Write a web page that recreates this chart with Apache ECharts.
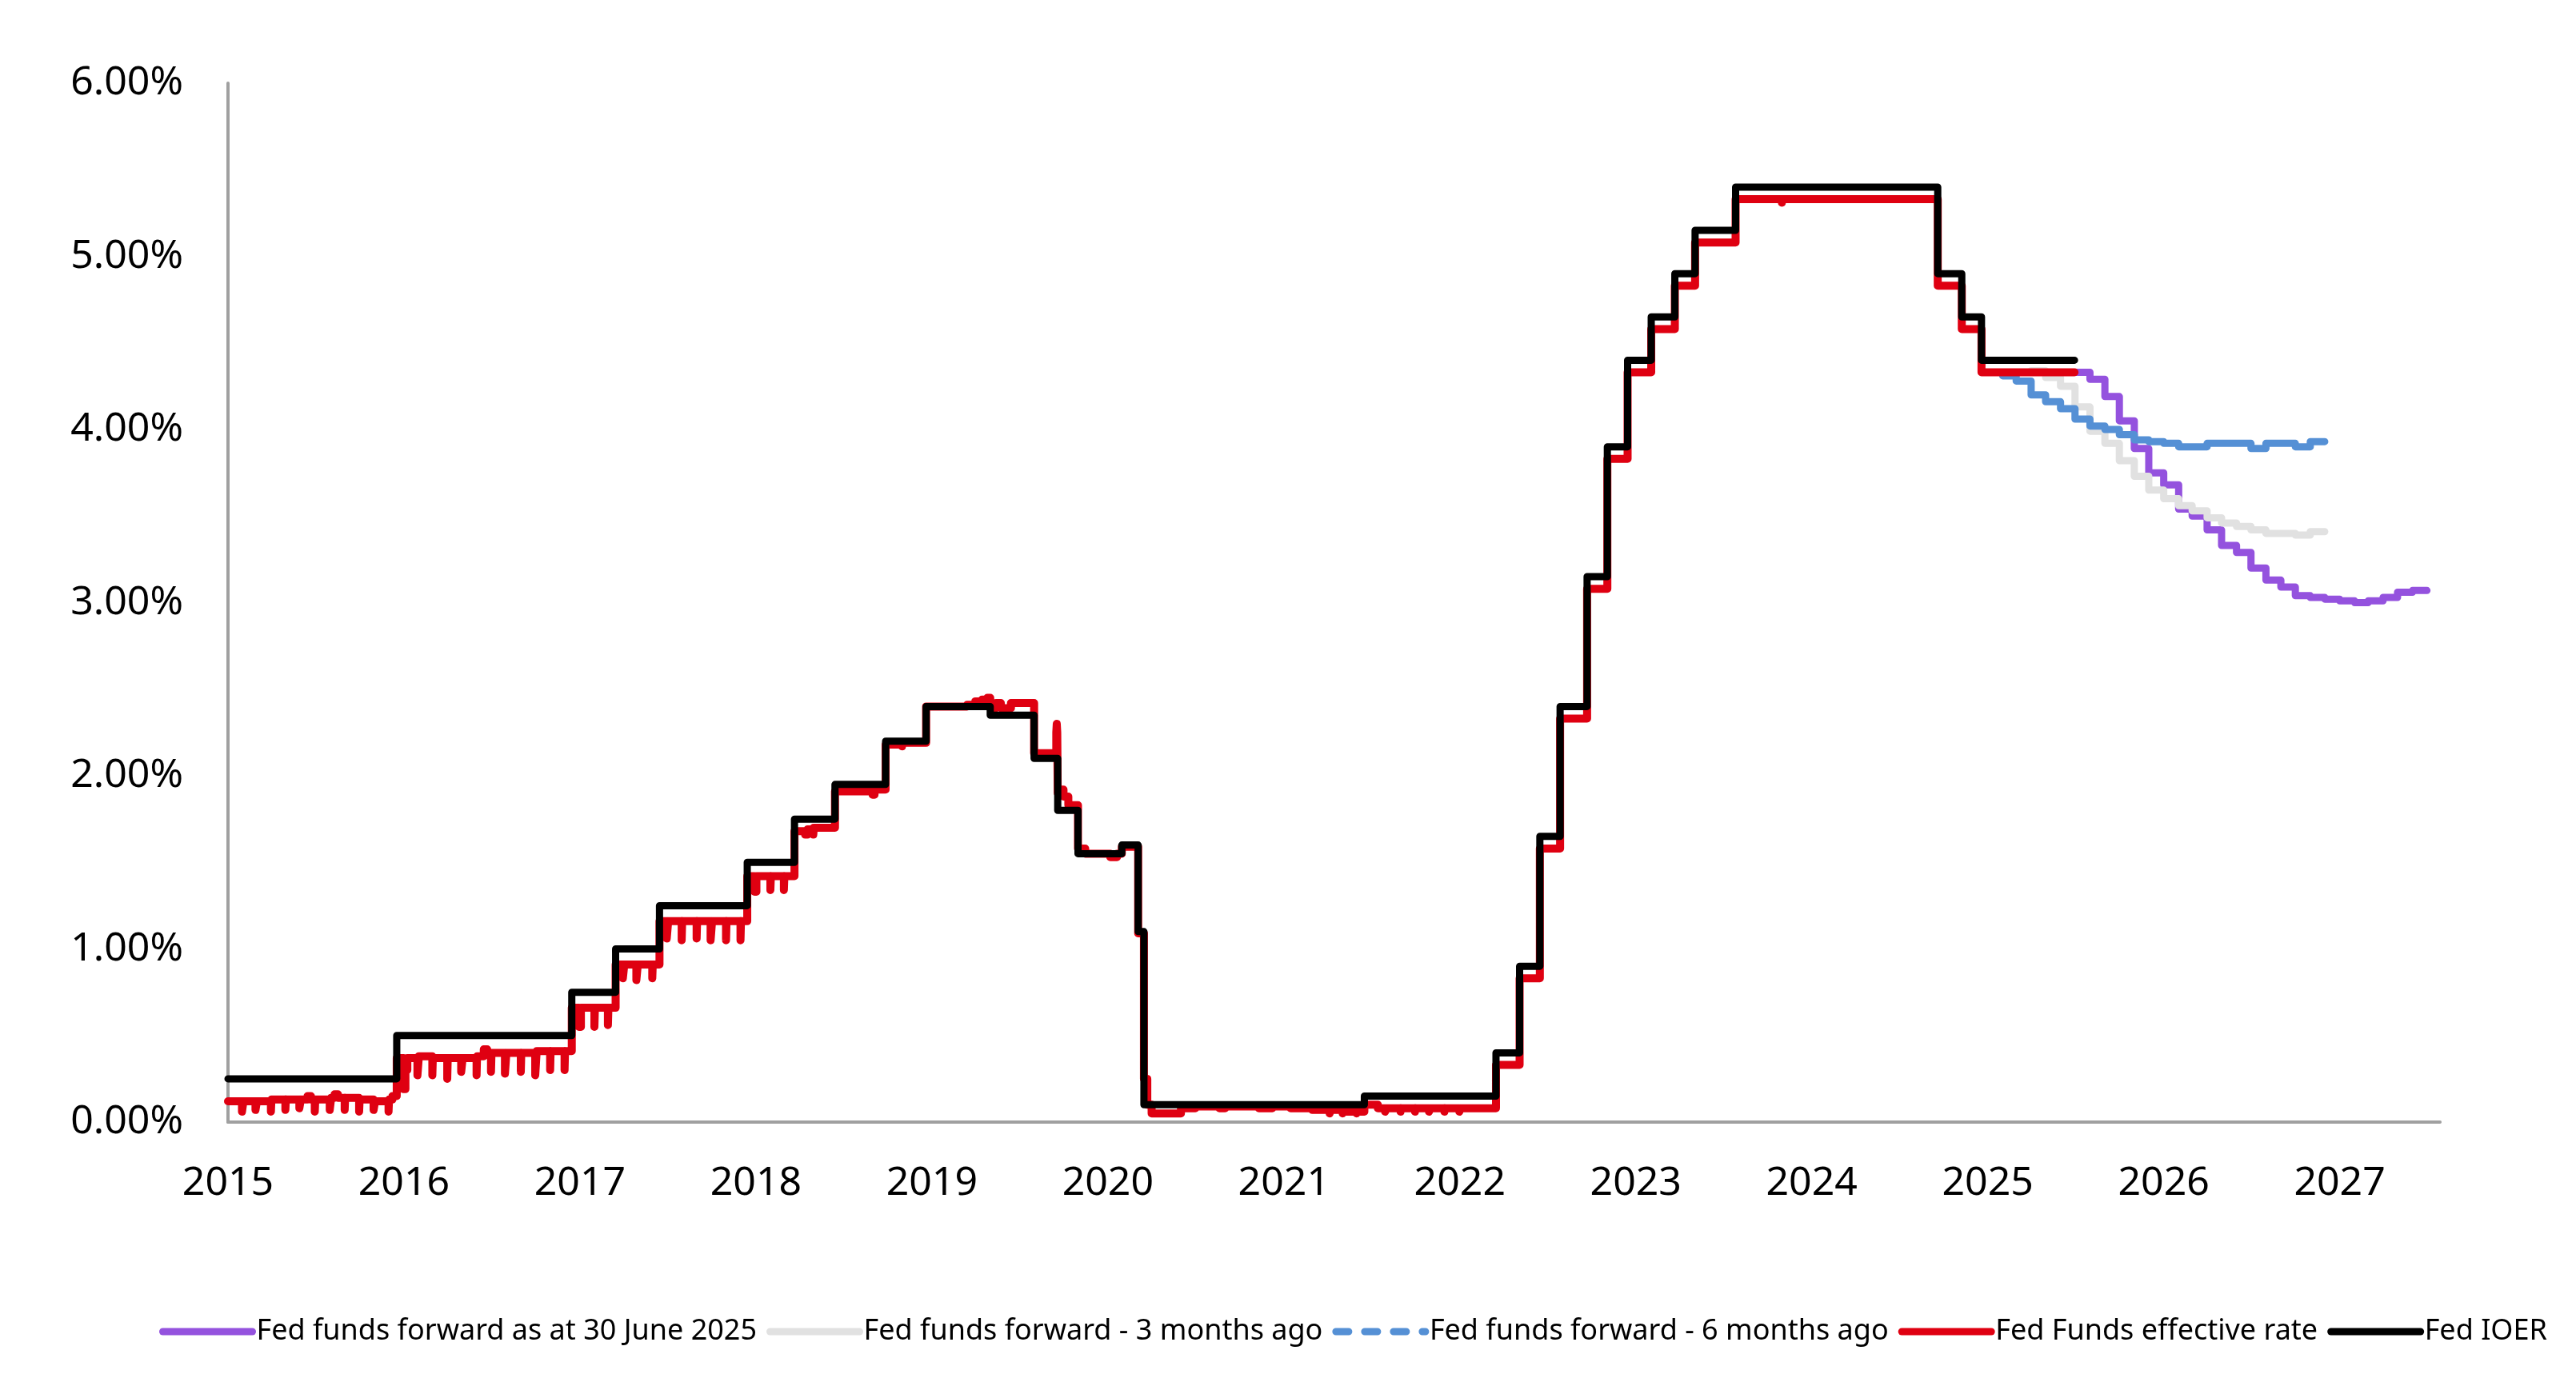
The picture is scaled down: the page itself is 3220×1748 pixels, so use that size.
<!DOCTYPE html>
<html>
<head>
<meta charset="utf-8">
<script src="https://cdn.jsdelivr.net/npm/echarts@6/dist/echarts.min.js"></script>
<style>
  html, body { margin: 0; padding: 0; background: #fff; }
  #chart { width: 3220px; height: 1748px; }
</style>
</head>
<body>
<div id="chart"></div>
<script>
// series names, in legend order
const seriesNames = [
  'Fed funds forward as at 30 June 2025',
  'Fed funds forward - 3 months ago',
  'Fed funds forward - 6 months ago',
  'Fed Funds effective rate',
  'Fed IOER'
]

// forward curves, monthly [date, %]
const fwdJun25 = [
  ['2025-07-01', 4.33], ['2025-08-01', 4.29], ['2025-09-01', 4.19], ['2025-10-01', 4.05],
  ['2025-11-01', 3.89], ['2025-12-01', 3.75], ['2026-01-01', 3.68], ['2026-02-01', 3.54],
  ['2026-03-01', 3.50], ['2026-04-01', 3.42], ['2026-05-01', 3.33], ['2026-06-01', 3.29],
  ['2026-07-01', 3.20], ['2026-08-01', 3.13], ['2026-09-01', 3.09], ['2026-10-01', 3.04],
  ['2026-11-01', 3.03], ['2026-12-01', 3.02], ['2027-01-01', 3.01], ['2027-02-01', 3.00],
  ['2027-03-01', 3.01], ['2027-04-01', 3.03], ['2027-05-01', 3.06], ['2027-06-01', 3.07],
  ['2027-07-01', 3.07]
]
const fwd3m = [
  ['2025-04-01', 4.34], ['2025-05-01', 4.30], ['2025-06-01', 4.25], ['2025-07-01', 4.13],
  ['2025-08-01', 3.99], ['2025-09-01', 3.92], ['2025-10-01', 3.82], ['2025-11-01', 3.73],
  ['2025-12-01', 3.65], ['2026-01-01', 3.60], ['2026-02-01', 3.56], ['2026-03-01', 3.53],
  ['2026-04-01', 3.49], ['2026-05-01', 3.46], ['2026-06-01', 3.44], ['2026-07-01', 3.42],
  ['2026-08-01', 3.40], ['2026-09-01', 3.40], ['2026-10-01', 3.39], ['2026-11-01', 3.41],
  ['2026-12-01', 3.41]
]
const fwd6m = [
  ['2025-01-01', 4.33], ['2025-02-01', 4.31], ['2025-03-01', 4.28], ['2025-04-01', 4.20],
  ['2025-05-01', 4.16], ['2025-06-01', 4.12], ['2025-07-01', 4.06], ['2025-08-01', 4.02],
  ['2025-09-01', 4.00], ['2025-10-01', 3.97], ['2025-11-01', 3.94], ['2025-12-01', 3.93],
  ['2026-01-01', 3.92], ['2026-02-01', 3.90], ['2026-03-01', 3.90], ['2026-04-01', 3.92],
  ['2026-05-01', 3.92], ['2026-06-01', 3.92], ['2026-07-01', 3.89], ['2026-08-01', 3.92],
  ['2026-09-01', 3.92], ['2026-10-01', 3.90], ['2026-11-01', 3.93], ['2026-12-01', 3.93]
]

// effective fed funds rate, [date, %] at each change (month-end dips included)
const effr = [
  ['2015-01-01', 0.12], ['2015-01-30', 0.06], ['2015-02-02', 0.12], ['2015-02-27', 0.07],
  ['2015-03-02', 0.12], ['2015-03-31', 0.06], ['2015-04-01', 0.13], ['2015-04-30', 0.07],
  ['2015-05-01', 0.13], ['2015-05-29', 0.08], ['2015-06-01', 0.13], ['2015-06-15', 0.15],
  ['2015-06-22', 0.13], ['2015-06-30', 0.06], ['2015-07-01', 0.13], ['2015-07-31', 0.07],
  ['2015-08-03', 0.14], ['2015-08-10', 0.16], ['2015-08-17', 0.14], ['2015-08-31', 0.07],
  ['2015-09-01', 0.14], ['2015-09-30', 0.06], ['2015-10-01', 0.13], ['2015-10-30', 0.07],
  ['2015-11-02', 0.12], ['2015-11-30', 0.06], ['2015-12-01', 0.13], ['2015-12-08', 0.15],
  ['2015-12-17', 0.37], ['2015-12-31', 0.19], ['2016-01-04', 0.30], ['2016-01-08', 0.37],
  ['2016-01-29', 0.27], ['2016-02-01', 0.38], ['2016-02-29', 0.27], ['2016-03-01', 0.37],
  ['2016-03-31', 0.25], ['2016-04-01', 0.37], ['2016-04-29', 0.29], ['2016-05-02', 0.37],
  ['2016-05-31', 0.27], ['2016-06-01', 0.38], ['2016-06-15', 0.42], ['2016-06-22', 0.40],
  ['2016-06-30', 0.29], ['2016-07-01', 0.40], ['2016-07-29', 0.28], ['2016-08-01', 0.40],
  ['2016-08-31', 0.29], ['2016-09-01', 0.40], ['2016-09-30', 0.27], ['2016-10-03', 0.41],
  ['2016-10-31', 0.30], ['2016-11-01', 0.41], ['2016-11-30', 0.30], ['2016-12-01', 0.41],
  ['2016-12-15', 0.66], ['2016-12-30', 0.55], ['2017-01-03', 0.66], ['2017-01-31', 0.55],
  ['2017-02-01', 0.66], ['2017-02-28', 0.56], ['2017-03-01', 0.66], ['2017-03-16', 0.91],
  ['2017-03-31', 0.83], ['2017-04-03', 0.91], ['2017-04-28', 0.82], ['2017-05-01', 0.91],
  ['2017-05-31', 0.83], ['2017-06-01', 0.91], ['2017-06-15', 1.16], ['2017-06-30', 1.06],
  ['2017-07-03', 1.16], ['2017-07-31', 1.05], ['2017-08-01', 1.16], ['2017-08-31', 1.06],
  ['2017-09-01', 1.16], ['2017-09-29', 1.05], ['2017-10-02', 1.16], ['2017-10-31', 1.05],
  ['2017-11-01', 1.16], ['2017-11-30', 1.05], ['2017-12-01', 1.16], ['2017-12-14', 1.42],
  ['2017-12-29', 1.33], ['2018-01-02', 1.42], ['2018-01-31', 1.34], ['2018-02-01', 1.42],
  ['2018-02-28', 1.34], ['2018-03-01', 1.42], ['2018-03-22', 1.68], ['2018-04-13', 1.66],
  ['2018-04-18', 1.69], ['2018-04-30', 1.66], ['2018-05-01', 1.70], ['2018-06-14', 1.91],
  ['2018-08-31', 1.89], ['2018-09-04', 1.92], ['2018-09-27', 2.18], ['2018-10-31', 2.17],
  ['2018-11-01', 2.19], ['2018-12-20', 2.40], ['2019-03-15', 2.41], ['2019-04-01', 2.43],
  ['2019-04-15', 2.44], ['2019-04-26', 2.45], ['2019-05-02', 2.39], ['2019-05-14', 2.42],
  ['2019-05-24', 2.39], ['2019-06-14', 2.42], ['2019-08-01', 2.13], ['2019-09-16', 2.25],
  ['2019-09-17', 2.30], ['2019-09-18', 2.25], ['2019-09-19', 1.90], ['2019-09-25', 1.92],
  ['2019-10-01', 1.88], ['2019-10-11', 1.83], ['2019-10-31', 1.58], ['2019-11-15', 1.55],
  ['2020-01-06', 1.53], ['2020-01-20', 1.55], ['2020-01-30', 1.59], ['2020-03-04', 1.09],
  ['2020-03-16', 0.25], ['2020-03-23', 0.10], ['2020-04-01', 0.05], ['2020-06-01', 0.08],
  ['2020-07-01', 0.09], ['2020-08-20', 0.08], ['2020-09-01', 0.09], ['2020-11-10', 0.08],
  ['2020-12-08', 0.09], ['2021-01-15', 0.08], ['2021-03-01', 0.07], ['2021-04-06', 0.05],
  ['2021-04-08', 0.07], ['2021-05-03', 0.05], ['2021-05-05', 0.06], ['2021-06-01', 0.05],
  ['2021-06-03', 0.06], ['2021-06-17', 0.10], ['2021-07-15', 0.08], ['2021-07-30', 0.06],
  ['2021-08-02', 0.08], ['2021-08-31', 0.06], ['2021-09-01', 0.08], ['2021-09-30', 0.06],
  ['2021-10-01', 0.08], ['2021-10-29', 0.06], ['2021-11-01', 0.08], ['2021-11-30', 0.06],
  ['2021-12-01', 0.08], ['2021-12-31', 0.06], ['2022-01-03', 0.08], ['2022-03-17', 0.33],
  ['2022-05-05', 0.83], ['2022-06-16', 1.58], ['2022-07-28', 2.33], ['2022-09-22', 3.08],
  ['2022-11-03', 3.83], ['2022-12-15', 4.33], ['2023-02-02', 4.58], ['2023-03-23', 4.83],
  ['2023-05-04', 5.08], ['2023-07-27', 5.33], ['2023-10-31', 5.31], ['2023-11-01', 5.33],
  ['2024-09-19', 4.83], ['2024-11-08', 4.58], ['2024-12-19', 4.33], ['2025-06-30', 4.33]
]

// interest on excess reserves, [date, %] at each change
const ioer = [
  ['2015-01-01', 0.25], ['2015-12-17', 0.50], ['2016-12-15', 0.75], ['2017-03-16', 1.00],
  ['2017-06-15', 1.25], ['2017-12-14', 1.50], ['2018-03-22', 1.75], ['2018-06-14', 1.95],
  ['2018-09-27', 2.20], ['2018-12-20', 2.40], ['2019-05-02', 2.35], ['2019-08-01', 2.10],
  ['2019-09-19', 1.80], ['2019-10-31', 1.55], ['2020-01-30', 1.60], ['2020-03-04', 1.10],
  ['2020-03-16', 0.10], ['2021-06-17', 0.15], ['2022-03-17', 0.40], ['2022-05-05', 0.90],
  ['2022-06-16', 1.65], ['2022-07-28', 2.40], ['2022-09-22', 3.15], ['2022-11-03', 3.90],
  ['2022-12-15', 4.40], ['2023-02-02', 4.65], ['2023-03-23', 4.90], ['2023-05-04', 5.15],
  ['2023-07-27', 5.40], ['2024-09-19', 4.90], ['2024-11-08', 4.65], ['2024-12-19', 4.40],
  ['2025-06-30', 4.40]
]

const colors = ['#9452de', '#e1e1e1', '#5590d5', '#df0011', '#000000']
const widths = [9, 9, 9, 10, 9]
const fontFamily = '"Noto Sans", "Open Sans", sans-serif'

// date string -> fractional year, so the x axis reads in years
function toYear(d) {
  const [y, m, day] = d.split('-').map(Number)
  const start = Date.UTC(y, 0, 1)
  const end = Date.UTC(y + 1, 0, 1)
  return y + (Date.UTC(y, m - 1, day) - start) / (end - start)
}
const toPoints = rows => rows.map(([d, v]) => [toYear(d), v])

function stepSeries(i, rows) {
  return {
    name: seriesNames[i],
    type: 'line',
    step: 'end',
    symbol: 'none',
    showSymbol: false,
    data: toPoints(rows),
    itemStyle: { color: colors[i] },
    lineStyle: { color: colors[i], width: widths[i], cap: 'round', join: 'round' },
    emphasis: { disabled: true }
  }
}

const chart = echarts.init(document.getElementById('chart'))
chart.setOption({
  animation: false,
  backgroundColor: '#ffffff',
  grid: { left: 285, right: 170, top: 104, bottom: 345 },
  legend: {
    left: 194,
    top: 1642,
    itemWidth: 112,
    itemHeight: 14,
    itemGap: 12,
    selectedMode: false,
    itemStyle: { opacity: 0 },
    lineStyle: { width: 9, cap: 'round' },
    textStyle: { fontFamily: fontFamily, fontSize: 36, color: '#000' },
    data: [
      { name: seriesNames[0] },
      { name: seriesNames[1] },
      { name: seriesNames[2], lineStyle: { width: 9, type: [16, 20], cap: 'round' } },
      { name: seriesNames[3] },
      { name: seriesNames[4] }
    ]
  },
  xAxis: {
    type: 'value',
    min: 2015,
    max: 2027.57,
    interval: 1,
    splitLine: { show: false },
    axisTick: { show: false },
    axisLine: { show: true, lineStyle: { color: '#a0a0a0', width: 4 } },
    axisLabel: {
      margin: 52,
      showMaxLabel: false,
      fontFamily: fontFamily,
      fontSize: 50,
      color: '#000',
      formatter: v => (Math.abs(v - Math.round(v)) < 1e-6 ? String(Math.round(v)) : '')
    }
  },
  yAxis: {
    type: 'value',
    min: 0,
    max: 6,
    interval: 1,
    splitLine: { show: false },
    axisTick: { show: false },
    axisLine: { show: true, lineStyle: { color: '#a0a0a0', width: 4 } },
    axisLabel: {
      margin: 56,
      fontFamily: fontFamily,
      fontSize: 50,
      color: '#000',
      formatter: v => v.toFixed(2) + '%'
    }
  },
  series: [
    stepSeries(0, fwdJun25),
    stepSeries(1, fwd3m),
    stepSeries(2, fwd6m),
    stepSeries(3, effr),
    stepSeries(4, ioer)
  ]
})
</script>
</body>
</html>
